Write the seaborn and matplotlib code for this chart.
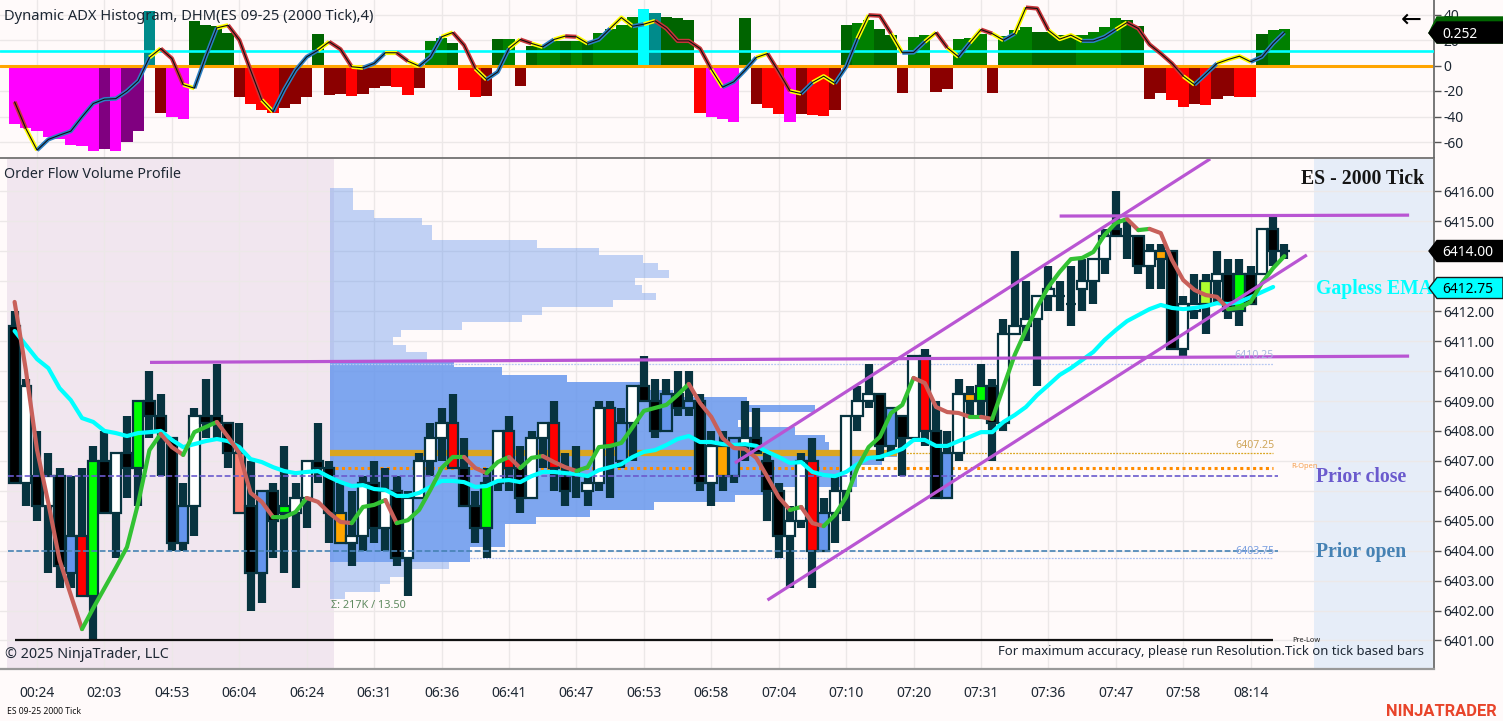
import numpy as np
import pandas as pd
import matplotlib
matplotlib.use("Agg")
import matplotlib.pyplot as plt
from matplotlib.patches import Polygon
import seaborn as sns

# ----------------------------
# Indicator pane data
# ----------------------------
adx_hist = [-46, -49, -51.5, -56, -58, -62, -63, -67, -65.6, -66.7, -60, -51.5, 42.6, -37.6, -40, -42,
            35, 31.6, 31, 25.6, -24.6, -30, -35, -37, -33, -30, -24.6, 25, -23, -22, -24, -22, -18, -16,
            -17, -23, -18, 19, 21.7, 18, -19, -24.6, -24, 21, 20.6, -16, 15, 15, 19, 19, 19, 18.5, 25.6,
            29, 32, 38, 44, 41, 38, 37, 36, -37.6, -40, -42, -44.7, 37.6, -30, -33, -38.4, -44.7, -38.4,
            -39, -39.5, -35, 32, 33, 35.5, 28.5, 24, -21.4, 22.5, 23.8, -20.6, -18.8, 20.4, 21.7, 25,
            -21.4, 23, 28, 30, 26, 26, 24, 24, 24, 26, 30, 37, 35.5, 31, -26, -21.4, -27, -32.4, -30, -31,
            -26, -24, -24.6, -24.6, 25, 27.5, 29]
adx_state = list("mmmmmmmm" "p" "m" "pp" "t" "d" "mm" "nnnn" "d" "rrr" "ddd" "n" "dd" "r" "ddd" "rr" "d" "gg" "n"
                 "rr" "d" "n" "g" "d" "n" "gg" "n" "g" "n" "gggg" "c" "t" "nnn" "r" "mmm" "n" "d" "rr" "m" "d"
                 "rr" "d" "n" "gg" "nn" "d" "gg" "dd" "ggg" "d" "ggg" "nnnn" "gggg" "nn" "dd" "rr" "d" "r" "dd"
                 "rr" "n" "gg")
adx_line = [-28.5, -49.4, -66.4, -58, -54.6, -51.5, -40.3, -29.8, -26.4, -26, -20, -12, 6.3, 13.3, 5.5, -15,
            -17.8, 6.8, 29.5, 31.6, 20, -3.7, -27, -36.3, -18.8, -3.7, 6.8, 12, 18.6, 12.8, -1, -1.8, 1.6,
            10, 10, 3.4, -0.5, 6.8, 22.5, 25.9, 16, -2.4, -11, -5, 13.3, 20.4, 17.3, 14.6, 20.4, 23, 22.5,
            17.3, 20.4, 29, 37.6, 30.8, 32.4, 35, 29, 19.3, 19.3, 13.3, -3, -17, -12.8, -3.7, 6.3, 9.4, -5,
            -20, -22, -13.3, -8.4, -14, -1, 21, 39.5, 39, 25, 10, 10.2, 18.6, 25.9, 13.9, 6.8, 17.8, 28.2,
            25, 19.9, 25, 45.5, 44.7, 27.7, 20.7, 23.8, 19.3, 19.3, 22.5, 28.2, 33.7, 29, 16.5, 9.4, 1.6,
            -8.4, -15, -6.8, 1.6, 4.7, 7.3, 2.9, 6.8, 17.3, 25.9]
adx_line_state = ("ry" "bbbbbbbbbb" "y" "rr" "y" "bb" "y" "rrr" "y" "bbbb" "y" "rr" "y" "bb" "y" "r" "y" "bb" "y"
                  "rr" "y" "bb" "y" "r" "y" "b" "y" "r" "y" "bb" "yy" "b" "y" "rrrrr" "y" "bbb" "y" "rr" "y" "b"
                  "yy" "bb" "y" "rr" "y" "bb" "y" "r" "y" "b" "y" "r" "y" "b" "y" "rr" "yyy" "bbb" "y" "rrrrr" "y"
                  "bb" "yyy" "bbb")
adx_ticks = [40, 20, 0, -20, -40, -60]
adx_signal = 11.6

# ----------------------------
# Price pane data (ES 2000 tick bars)
# ----------------------------
wick_hi = [6412.0, 6409.75, 6408.0, 6407.25, 6406.75, 6406.5, 6406.75, 6407.5, 6408.0, 6407.25, 6408.5, 6409.0,
           6410.0, 6409.25, 6407.75, 6406.25, 6408.75, 6409.75, 6410.25, 6408.25, 6408.25, 6407.0, 6406.0, 6406.25,
           6407.5, 6406.25, 6407.0, 6408.25, 6407.0, 6406.25, 6406.0, 6406.5, 6407.0, 6406.75, 6406.5, 6406.0,
           6407.25, 6408.25, 6408.75, 6409.25, 6407.75, 6406.0, 6406.75, 6408.0, 6408.5, 6407.5, 6408.0, 6408.25,
           6409.0, 6407.25, 6407.5, 6406.5, 6409.0, 6409.0, 6408.75, 6409.5, 6410.5, 6409.75, 6409.75, 6410.0,
           6410.0, 6409.25, 6408.0, 6408.0, 6407.75, 6409.0, 6408.75, 6407.25, 6406.25, 6405.5, 6407.25, 6407.75,
           6405.75, 6406.5, 6408.5, 6409.5, 6410.25, 6409.25, 6408.75, 6408.5, 6410.5, 6410.75, 6409.0, 6408.0,
           6409.75, 6409.5, 6410.25, 6409.75, 6411.75, 6414.0, 6413.0, 6412.5, 6413.5, 6413.0, 6413.5, 6413.75,
           6413.75, 6414.75, 6416.0, 6415.0, 6414.5, 6414.25, 6414.25, 6414.0, 6412.5, 6413.25, 6413.25, 6414.0,
           6413.75, 6413.75, 6413.5, 6414.75, 6415.25, 6414.25]
wick_lo = [6406.25, 6405.5, 6405.0, 6403.25, 6402.75, 6402.75, 6402.5, 6401.0, 6405.25, 6403.75, 6405.75, 6405.5,
           6407.75, 6406.5, 6404.0, 6404.0, 6404.5, 6407.75, 6407.75, 6406.75, 6405.25, 6402.0, 6402.25, 6403.75,
           6403.25, 6402.75, 6404.75, 6406.25, 6404.25, 6404.25, 6403.5, 6404.0, 6404.25, 6404.0, 6403.5, 6402.5,
           6405.75, 6406.5, 6407.0, 6406.75, 6405.5, 6404.25, 6403.75, 6406.0, 6406.0, 6405.25, 6405.75, 6406.75,
           6406.0, 6405.5, 6405.75, 6405.5, 6406.0, 6405.75, 6406.75, 6407.0, 6409.0, 6407.75, 6408.0, 6408.5,
           6408.5, 6406.0, 6405.5, 6406.0, 6406.25, 6407.0, 6407.25, 6405.0, 6403.75, 6402.75, 6404.75, 6402.75,
           6404.0, 6404.25, 6405.0, 6408.0, 6408.75, 6407.0, 6407.25, 6406.5, 6407.75, 6407.5, 6405.75, 6405.75,
           6407.0, 6408.5, 6408.5, 6407.0, 6408.0, 6411.25, 6411.0, 6409.5, 6412.0, 6412.0, 6411.5, 6412.0,
           6412.25, 6413.25, 6414.5, 6413.75, 6413.25, 6412.75, 6412.75, 6410.75, 6410.5, 6411.75, 6411.25, 6412.25,
           6411.75, 6411.5, 6412.25, 6413.25, 6413.5, 6413.75]
body_top = [6411.5, 6409.5, 6406.5, 6406.5, 6406.5, 6404.5, 6404.5, 6407.0, 6407.0, 6407.25, 6407.25, 6409.0,
            6409.0, 6408.5, 6407.75, 6405.5, 6408.5, 6408.5, 6408.5, 6408.25, 6407.25, 6405.5, 6406.0, 6406.0,
            6405.5, 6405.75, 6407.0, 6407.0, 6406.75, 6405.25, 6404.5, 6406.25, 6406.25, 6406.0, 6406.0, 6405.75,
            6407.0, 6407.75, 6408.25, 6408.25, 6406.75, 6405.5, 6406.25, 6408.0, 6408.0, 6406.75, 6407.75, 6408.25,
            6408.25, 6406.5, 6406.5, 6406.25, 6408.75, 6408.75, 6408.25, 6409.5, 6409.5, 6409.0, 6409.25, 6409.25,
            6409.0, 6409.0, 6407.5, 6407.5, 6407.75, 6407.75, 6407.75, 6407.0, 6406.0, 6405.0, 6407.0, 6407.0,
            6405.25, 6406.0, 6408.5, 6409.0, 6409.25, 6409.25, 6408.75, 6408.5, 6410.5, 6410.5, 6408.0, 6407.25,
            6409.25, 6409.25, 6409.5, 6409.5, 6411.25, 6411.5, 6411.75, 6412.5, 6412.75, 6412.5, 6412.25, 6413.0,
            6413.75, 6414.5, 6414.75, 6414.5, 6414.5, 6414.0, 6414.0, 6414.0, 6412.25, 6412.25, 6413.0, 6413.25,
            6413.25, 6413.25, 6413.25, 6414.75, 6414.75, 6414.0]
body_bot = [6406.25, 6406.25, 6405.5, 6405.5, 6403.5, 6403.25, 6402.5, 6402.5, 6405.25, 6405.25, 6406.75, 6406.75,
            6408.5, 6408.0, 6404.25, 6404.25, 6405.5, 6408.25, 6408.25, 6407.25, 6405.25, 6403.25, 6403.25, 6405.0,
            6405.25, 6405.25, 6405.75, 6406.75, 6405.25, 6404.25, 6404.25, 6404.5, 6404.75, 6404.75, 6403.75, 6403.75,
            6405.75, 6407.0, 6407.75, 6406.75, 6405.5, 6404.75, 6404.75, 6406.25, 6406.75, 6405.75, 6405.75, 6407.75,
            6406.75, 6406.0, 6406.5, 6406.0, 6406.25, 6407.5, 6407.0, 6408.25, 6409.0, 6408.0, 6408.0, 6408.75,
            6408.75, 6406.25, 6406.25, 6406.5, 6406.5, 6407.5, 6407.25, 6406.0, 6404.5, 6404.5, 6405.0, 6404.0,
            6404.0, 6405.25, 6406.0, 6408.5, 6409.0, 6407.5, 6407.5, 6407.75, 6407.75, 6408.0, 6405.75, 6405.75,
            6407.25, 6409.0, 6409.0, 6408.25, 6408.25, 6411.25, 6411.5, 6411.75, 6412.5, 6412.5, 6412.25, 6412.75,
            6413.0, 6413.75, 6414.5, 6414.5, 6413.5, 6413.5, 6413.75, 6410.75, 6410.75, 6412.0, 6412.25, 6413.0,
            6412.0, 6412.0, 6412.25, 6413.25, 6414.0, 6414.0]
body_state = list("kwkwkbrgkw" "kgkkkbwkkk" "skbkgwwkko" "wwkwkwwwwr" "kkgwrkwwrk" "kwwrbwkkbk"
                  "bkwobwkkkw" "wrbwwwwkbk" "wrkbwogkww" "wwwkkwwwkk" "kwokwwywkg" "kwkk")
fast_ma = [6412.31, 6410.04, 6407.36, 6405.59, 6403.69, 6402.52, 6401.38, 6402.08, 6402.75, 6403.42, 6404.12, 6405.59,
           6407.36, 6407.90, 6407.46, 6407.20, 6407.96, 6408.13, 6408.30, 6407.80, 6407.26, 6405.93, 6405.63, 6405.12,
           6405.12, 6405.29, 6405.76, 6405.63, 6405.26, 6404.96, 6404.92, 6405.46, 6405.53, 6405.69, 6404.92, 6405.02,
           6405.36, 6406.03, 6406.76, 6407.13, 6407.13, 6406.76, 6406.59, 6406.96, 6407.13, 6406.76, 6407.10, 6407.16,
           6406.96, 6406.79, 6406.66, 6406.79, 6407.46, 6407.50, 6407.60, 6408.13, 6408.67, 6408.77, 6408.87, 6409.20,
           6409.57, 6408.93, 6408.47, 6407.76, 6407.43, 6407.40, 6407.10, 6406.46, 6405.79, 6405.36, 6405.46, 6404.92,
           6404.82, 6405.19, 6405.79, 6406.76, 6407.46, 6407.80, 6408.60, 6408.87, 6409.77, 6409.60, 6408.80, 6408.63,
           6408.60, 6408.47, 6408.47, 6408.40, 6409.47, 6410.54, 6411.37, 6412.14, 6412.81, 6413.31, 6413.74, 6413.78,
           6413.98, 6414.55, 6414.95, 6415.08, 6414.71, 6414.75, 6414.61, 6413.71, 6413.04, 6412.71, 6412.54, 6412.48,
           6412.07, 6412.11, 6412.31, 6412.94, 6413.44, 6413.84]
slow_ma = [6411.34, 6410.87, 6410.40, 6410.10, 6409.43, 6409.03, 6408.43, 6408.30, 6408.00, 6407.93, 6407.83, 6407.93,
           6407.96, 6408.00, 6407.70, 6407.46, 6407.56, 6407.66, 6407.73, 6407.66, 6407.46, 6407.06, 6406.96, 6406.79,
           6406.66, 6406.59, 6406.63, 6406.66, 6406.46, 6406.29, 6406.16, 6406.19, 6406.06, 6406.03, 6405.83, 6405.83,
           6405.93, 6406.13, 6406.33, 6406.33, 6406.29, 6406.13, 6406.16, 6406.33, 6406.36, 6406.29, 6406.49, 6406.63,
           6406.63, 6406.59, 6406.56, 6406.49, 6406.69, 6406.79, 6406.89, 6407.13, 6407.30, 6407.36, 6407.53, 6407.73,
           6407.83, 6407.63, 6407.63, 6407.56, 6407.53, 6407.56, 6407.50, 6407.30, 6407.13, 6406.93, 6406.96, 6406.63,
           6406.53, 6406.49, 6406.63, 6406.89, 6407.10, 6407.13, 6407.26, 6407.40, 6407.70, 6407.70, 6407.50, 6407.50,
           6407.66, 6407.80, 6407.96, 6407.96, 6408.30, 6408.53, 6408.80, 6409.20, 6409.53, 6409.87, 6410.10, 6410.37,
           6410.64, 6411.04, 6411.37, 6411.67, 6411.87, 6412.07, 6412.21, 6412.11, 6412.07, 6412.11, 6412.17, 6412.27,
           6412.24, 6412.31, 6412.47, 6412.64, 6412.81]
time_labels = ["00:24", "02:03", "04:53", "06:04", "06:24", "06:31", "06:36", "06:41", "06:47", "06:53",
               "06:58", "07:04", "07:10", "07:20", "07:31", "07:36", "07:47", "07:58", "08:14"]
price_ticks = list(range(6401, 6417))
hidden_ticks = [6413, 6414]  # covered by the price markers

# volume profile, top level down (0.25 steps from 6416.00)
profile_vol = [23, 23, 23, 44, 92, 102, 102, 207, 269, 313, 328, 339, 305, 312, 326, 283, 212, 192, 132, 71, 63, 76, 97,
               124, 172, 237, 310, 343, 417, 485, 417, 408, 465, 495, 499, 567, 552, 528, 527, 527, 437, 405, 324, 260,
               206, 175, 175, 175, 140, 140, 119, 82, 60, 50, 15]
profile_top = 6416.0
value_high = 6410.25
value_low = 6403.75
poc_price = 6407.25
r_open = 6406.75
prior_close = 6406.5
prior_open = 6404.0
pre_low = 6401.0

# drawn trend lines: bar, price
line_flat = [(12.05, 6410.29), (124.1, 6410.5)]
line_top = [(93.0, 6415.18), (124.1, 6415.21)]
channel_up = [(64.1, 6406.93), (106.4, 6417.09)]
channel_low = [(67.0, 6402.35), (115.0, 6413.88)]

# ----------------------------
# Styling
# ----------------------------
W, H = 1503, 721
BG = "#fffafa"
WICK = "#07333f"
GRID = "#ece8e8"
TXT = "#1d2733"
PURPLE = "#b955d3"

sns.set_theme(style="white", rc={"axes.facecolor": BG, "figure.facecolor": BG, "axes.unicode_minus": False})
plt.rcParams["font.family"] = ["Noto Sans", "DejaVu Sans"]

adx_colors = {"m": "#ff00ff", "p": "#800080", "t": "#008b8b", "n": "#006400", "g": "#008000",
              "d": "#8b0000", "r": "#ff0000", "c": "#00ffff"}
adx_line_colors = {"y": "#ffff00", "r": "#c8353a", "b": "#2c80c4"}
body_colors = {"k": "#000000", "w": "#ffffff", "r": "#ff0000", "g": "#00ff00", "b": "#6495ed", "s": "#fa8072",
               "o": "#ffa500", "y": "#adff2f"}


def to_x(px):
    return (px - 14.6) / 11.237


def runs(codes):
    start = 0
    for i in range(1, len(codes) + 1):
        if i == len(codes) or codes[i] != codes[start]:
            yield start, i, codes[start]
            start = i


def put(x, y, s, **kw):
    kw.setdefault("va", "center")
    kw.setdefault("color", TXT)
    kw.setdefault("fontsize", 10)
    fig.text(x / W, 1 - y / H, s, **kw)


def tag(y, face, edge, label, color, top=None, half=10.5):
    t = y - half if top is None else top
    pts = [(1437, t), (W, t), (W, y + half), (1437, y + half), (1429, y)]
    fig.add_artist(Polygon([(a / W, 1 - b / H) for a, b in pts], closed=True, transform=fig.transFigure,
                           facecolor=face, edgecolor=edge, lw=1, zorder=5))
    if label:
        put(1442, y + 1, label, color=color, zorder=6)


fig = plt.figure(figsize=(W / 100, H / 100), dpi=100)
ax_top = fig.add_axes([0, 1 - 158 / H, 1434 / W, 158 / H])
ax = fig.add_axes([0, 1 - 669 / H, 1434 / W, (669 - 159) / H])

bars = np.arange(len(wick_hi))
tick_bars = np.arange(len(time_labels)) * 6 + 2
xlim = (to_x(0), to_x(1434))

# ----------------------------
# Indicator pane
# ----------------------------
adx_df = pd.DataFrame({"bar": bars, "value": adx_hist, "state": adx_state})
sns.barplot(data=adx_df, x="bar", y="value", hue="state", palette=adx_colors, dodge=False, native_scale=True,
            width=1.0, saturation=1, legend=False, linewidth=0, orient="x", ax=ax_top, zorder=2)

ax_top.axhline(adx_signal, color="#00ffff", lw=1.9, zorder=3)
ax_top.axhline(0, color="#ffa500", lw=2.2, zorder=2.5)

for a, b, code in runs(adx_line_state):
    seg = pd.DataFrame({"bar": bars[a:b + 1], "value": adx_line[a:b + 1]})
    sns.lineplot(data=seg, x="bar", y="value", color=adx_line_colors[code], lw=3.0, sort=False, estimator=None,
                 ax=ax_top, zorder=4, solid_capstyle="butt")
sns.lineplot(x=bars, y=adx_line, color="#101010", lw=0.8, sort=False, estimator=None, ax=ax_top, zorder=5)

ax_top.set_xlim(xlim)
ax_top.set_ylim((65.5 - 158) / 1.275, 65.5 / 1.275)
ax_top.set_xlabel("")
ax_top.set_ylabel("")
ax_top.set_xticks(tick_bars)
ax_top.set_xticklabels([])
ax_top.set_yticks(adx_ticks)
ax_top.yaxis.tick_right()
ax_top.tick_params(axis="y", length=5, width=1, color="#555555", labelsize=10, labelcolor=TXT, pad=2)
ax_top.tick_params(axis="x", length=0)
ax_top.grid(True, color=GRID, lw=1.0)
ax_top.set_axisbelow(True)

# ----------------------------
# Price pane
# ----------------------------
ax.axvspan(to_x(7), to_x(334), color="#f1e6ef", lw=0, zorder=0)
ax.axvspan(to_x(1314), to_x(1433), color="#e6edf8", lw=0, zorder=0)

levels = profile_top - 0.25 * np.arange(len(profile_vol))
for inside, a in ((False, 0.40), (True, 0.83)):
    mask = ((levels <= value_high) & (levels >= value_low)) == inside
    ax.barh(levels[mask], np.array(profile_vol)[mask] / 11.237, height=0.25, left=to_x(330), color="#6495ed",
            alpha=a, lw=0, zorder=1.5)

ax.plot([to_x(330), to_x(897)], [poc_price, poc_price], color="#daa520", lw=4.5, solid_capstyle="butt", zorder=2)
ax.plot([to_x(897), to_x(1273)], [poc_price, poc_price], color="#daa520", lw=0.9, ls=(0, (1.5, 1)), zorder=2)
ax.plot([to_x(335), to_x(1273)], [r_open, r_open], color="#ff8c00", lw=2.2, ls=(0, (1, 1.1)), dash_capstyle="butt", zorder=2)
ax.plot([to_x(470), to_x(1273)], [value_low, value_low], color="#a9bdf0", lw=0.9, ls=(0, (1.5, 1)), zorder=2)
ax.plot([to_x(330), to_x(1273)], [value_high, value_high], color="#b7c8f2", lw=0.9, ls=(0, (1.5, 1)), zorder=2)

ax.vlines(bars, wick_lo, wick_hi, color=WICK, lw=5.9, zorder=3, capstyle="butt")
ax.bar(bars, np.array(body_top) - np.array(body_bot), bottom=body_bot, width=0.93,
       color=[body_colors[c] for c in body_state], edgecolor=WICK, lw=1.6, zorder=4)

ax.plot([to_x(8), to_x(1278)], [prior_close, prior_close], color="#6a5acd", lw=1.2, ls=(0, (3.5, 1.5)), zorder=5)
ax.plot([to_x(8), to_x(1278)], [prior_open, prior_open], color="#4682b4", lw=1.2, ls=(0, (3.5, 1.5)), zorder=5)
ax.plot([to_x(15), to_x(1273)], [pre_low, pre_low], color="#111111", lw=1.6, solid_capstyle="butt", zorder=5)

sns.lineplot(x=bars[:len(slow_ma)], y=slow_ma, color="#00ffff", lw=3.0, sort=False, estimator=None, ax=ax, zorder=6)

ma_codes = ["u" if d >= 0 else "d" for d in np.diff(fast_ma)]
for a, b, code in runs(ma_codes):
    seg = pd.DataFrame({"bar": bars[a:b + 1], "price": fast_ma[a:b + 1]})
    sns.lineplot(data=seg, x="bar", y="price", color="#33c233" if code == "u" else "#c8605a", lw=3.0, sort=False,
                 estimator=None, ax=ax, zorder=7)

for line in (line_flat, line_top, channel_up, channel_low):
    ax.plot(*zip(*line), color=PURPLE, lw=2.3, zorder=8, solid_capstyle="butt")

ax.set_xlim(xlim)
ax.set_ylim(6416 - (669 - 191.5) / 29.93, 6416 + (191.5 - 159) / 29.93)
ax.set_xlabel("")
ax.set_ylabel("")
ax.set_xticks(tick_bars)
ax.set_xticklabels(time_labels)
ax.set_yticks(price_ticks)
ax.set_yticklabels(["" if p in hidden_ticks else "%.2f" % p for p in price_ticks])
ax.yaxis.tick_right()
ax.tick_params(axis="y", length=5, width=1, color="#555555", labelsize=10, labelcolor=TXT, pad=2)
ax.tick_params(axis="x", length=4, width=1, color="#555555", labelsize=10, labelcolor=TXT, pad=8)
ax.grid(True, color=GRID, lw=1.0)
ax.set_axisbelow(True)

for a_ in (ax, ax_top):
    for side in ("left", "top"):
        a_.spines[side].set_visible(False)
    a_.spines["right"].set_color("#777777")
    a_.spines["right"].set_linewidth(1.4)
ax_top.spines["bottom"].set_color("#666666")
ax_top.spines["bottom"].set_linewidth(1.2)
ax.spines["bottom"].set_color("#999999")
ax.spines["bottom"].set_linewidth(1.6)

# ----------------------------
# Labels
# ----------------------------
put(4, 16, "Dynamic ADX Histogram, DHM(ES 09-25 (2000 Tick),4)", fontsize=10.6)
put(4, 175, "Order Flow Volume Profile", fontsize=10.3)
put(5, 654, "\u00a9 2025 NinjaTrader, LLC", fontsize=10.3)
put(1424, 651, "For maximum accuracy, please run Resolution.Tick on tick based bars", ha="right", fontsize=9.4)
put(7, 711, "ES 09-25 2000 Tick", fontsize=6.2, color="#111111")
put(1497, 711, "NINJATRADER", ha="right", fontsize=11.9, fontweight="bold", color="#e8442a", family="Roboto")
put(331, 605, "\u03a3: 217K / 13.50", fontsize=7.8, color="#5f8a5f")
put(1274, 355, "6410.25", ha="right", fontsize=7.6, color="#a8b8e0")
put(1274, 446, "6407.25", ha="right", fontsize=7.6, color="#cfa65a")
put(1274, 551, "6403.75", ha="right", fontsize=7.6, color="#7a9fe0")
put(1291, 467, "R-Open", fontsize=5.4, color="#f5a050")
put(1292, 640, "Pre-Low", fontsize=5.3, color="#222222")

serif = dict(family="Liberation Serif", fontweight="bold", fontsize=14.2)
put(1424, 179, "ES - 2000 Tick", ha="right", color="#151515", **serif)
put(1316, 289, "Gapless EMA", color="#00ffff", **serif)
put(1316, 477, "Prior close", color="#6a5acd", **serif)
put(1316, 552, "Prior open", color="#4682b4", **serif)
put(1411, 20, "\u2190", ha="center", fontsize=18, color="#000000", family="DejaVu Sans")

tag(33, "#006400", "#006400", "", "#ffffff", top=17, half=10)
tag(33, "#000000", "#000000", "0.252", "#ffffff", top=22, half=10)
tag(251, "#000000", "#000000", "6414.00", "#ffffff")
tag(288, "#00ffff", "#1a1a1a", "6412.75", "#000000")

fig.savefig("out.png", dpi=100, facecolor=BG)
